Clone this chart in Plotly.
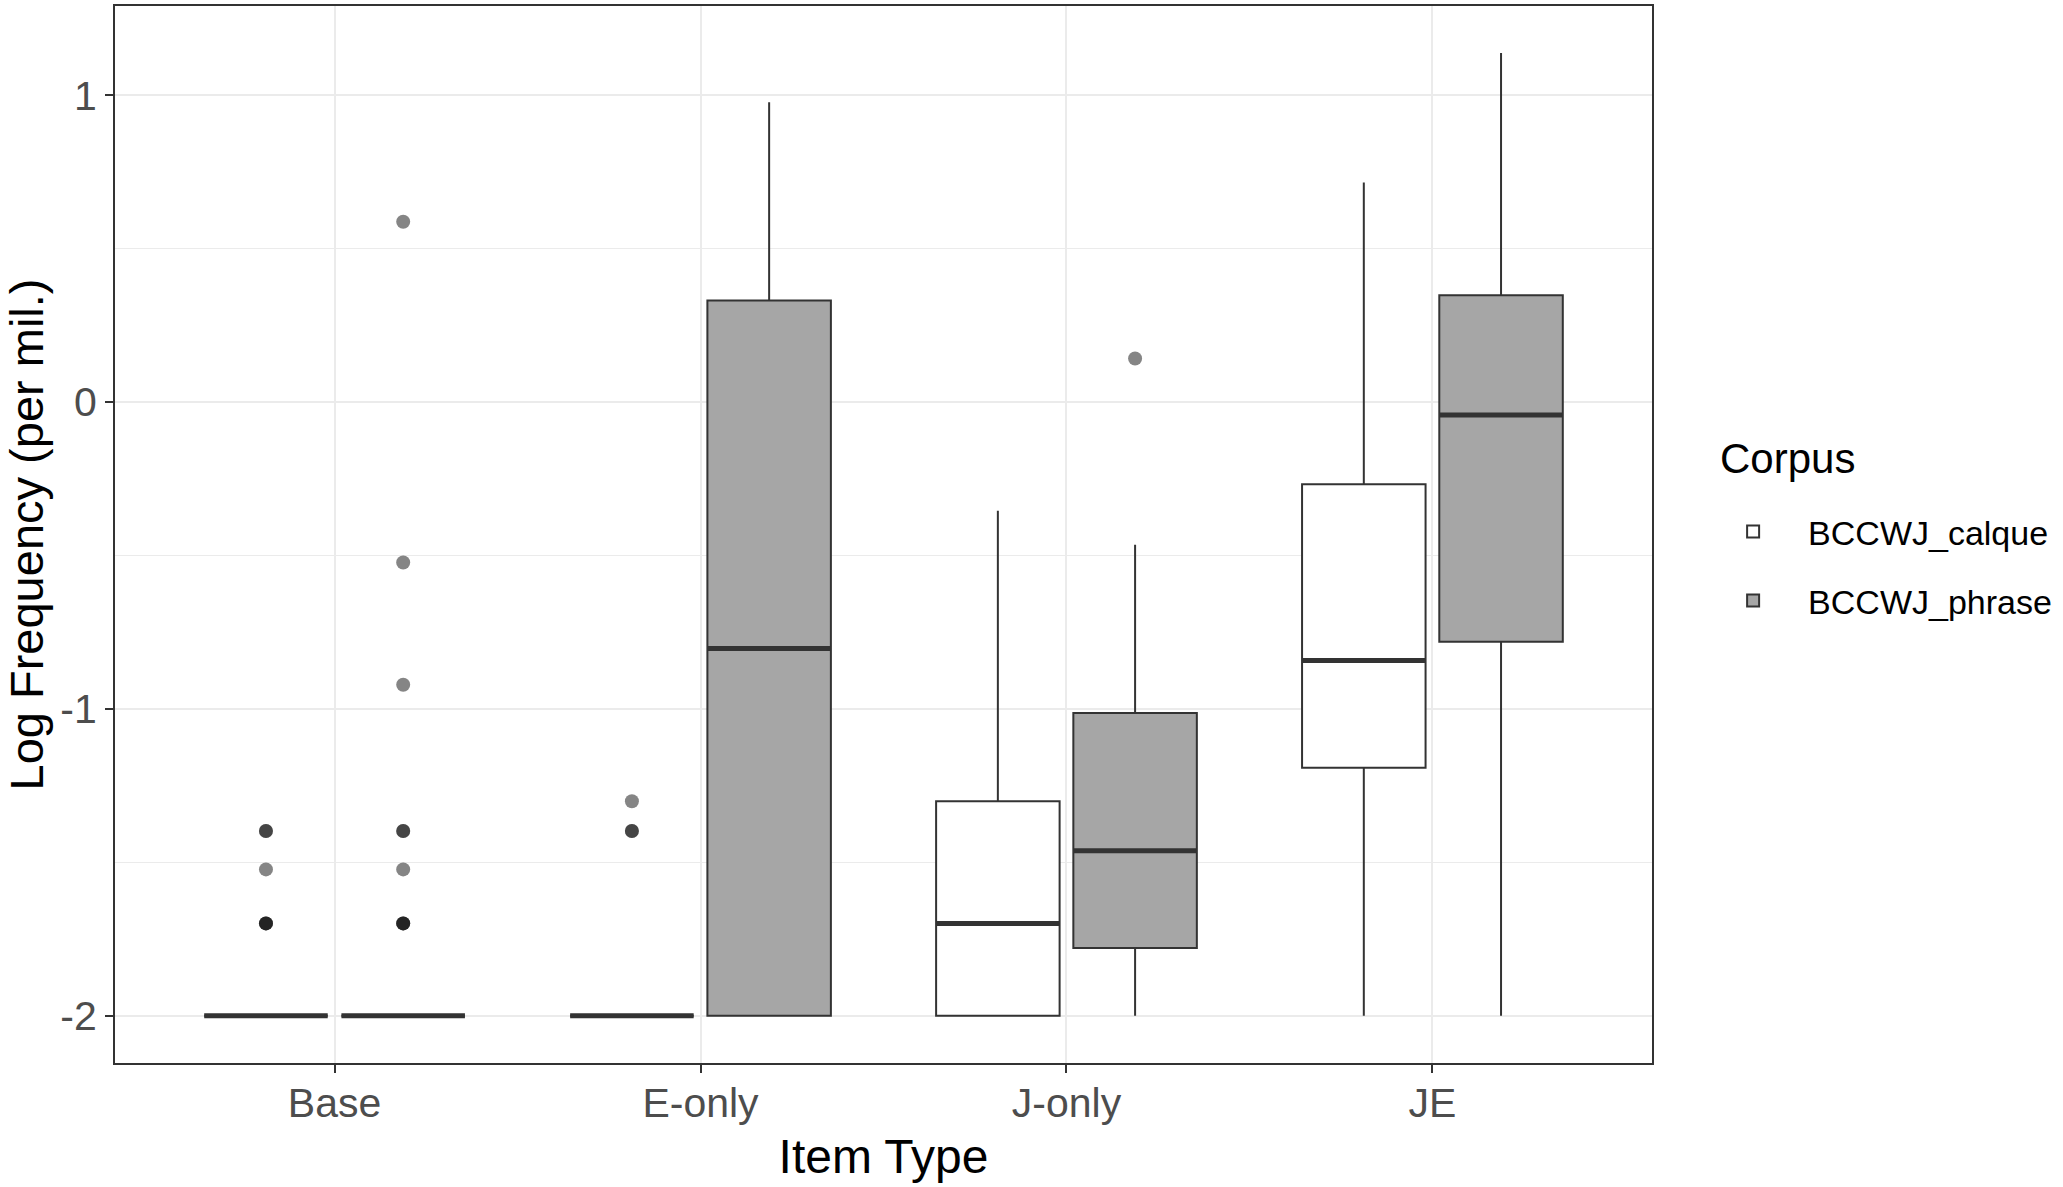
import plotly.graph_objects as go

categories = ["Base", "E-only", "J-only", "JE"]
series = ["BCCWJ_calque", "BCCWJ_phrase"]

# box statistics per category (log10 frequency per million)
calque_q1 = [-2.0, -2.0, -2.0, -1.192]
calque_median = [-2.0, -2.0, -1.699, -0.842]
calque_q3 = [-2.0, -2.0, -1.301, -0.268]
calque_lower = [-2.0, -2.0, -2.0, -2.0]
calque_upper = [-2.0, -2.0, -0.354, 0.716]

phrase_q1 = [-2.0, -2.0, -1.779, -0.781]
phrase_median = [-2.0, -0.803, -1.462, -0.042]
phrase_q3 = [-2.0, 0.331, -1.013, 0.348]
phrase_lower = [-2.0, -2.0, -2.0, -2.0]
phrase_upper = [-2.0, 0.977, -0.465, 1.138]

# outliers (category, value); repeated values overplot
calque_out_cat = ["Base", "Base", "Base", "Base", "Base", "Base",
                  "E-only", "E-only", "E-only"]
calque_out_val = [-1.398, -1.398, -1.523, -1.699, -1.699, -1.699,
                  -1.301, -1.398, -1.398]
phrase_out_cat = ["Base", "Base", "Base", "Base", "Base", "Base", "Base", "Base", "Base",
                  "J-only"]
phrase_out_val = [0.588, -0.523, -0.921, -1.398, -1.398, -1.523, -1.699, -1.699, -1.699,
                  0.142]

fills = ["#FFFFFF", "#A6A6A6"]
LINE = "#333333"
dodge = 0.1875
bw = 0.3375

fig = go.Figure()

def xpos(cats, k):
    off = -dodge if k == 0 else dodge
    return [categories.index(c) + off for c in cats]

stats = [
    (calque_q1, calque_median, calque_q3, calque_lower, calque_upper, calque_out_cat, calque_out_val),
    (phrase_q1, phrase_median, phrase_q3, phrase_lower, phrase_upper, phrase_out_cat, phrase_out_val),
]

for k, (q1, med, q3, lo, hi, oc, ov) in enumerate(stats):
    xs = xpos(categories, k)
    fig.add_trace(go.Box(
        x=xs, q1=q1, median=med, q3=q3, lowerfence=lo, upperfence=hi,
        width=bw, whiskerwidth=0, boxpoints=False,
        fillcolor=fills[k], line=dict(color=LINE, width=2),
        name=series[k], showlegend=True, legendgroup=series[k],
        hoverinfo="skip",
    ))

for k, (q1, med, q3, lo, hi, oc, ov) in enumerate(stats):
    xs = xpos(categories, k)
    # thick median line
    fig.add_trace(go.Box(
        x=xs, q1=med, median=med, q3=med, lowerfence=med, upperfence=med,
        width=bw, whiskerwidth=0, boxpoints=False,
        fillcolor="rgba(0,0,0,0)", line=dict(color=LINE, width=5),
        name=series[k], showlegend=False, legendgroup=series[k],
        hoverinfo="skip",
    ))
    fig.add_trace(go.Scatter(
        x=xpos(oc, k), y=ov, mode="markers",
        marker=dict(size=14, color="rgba(0,0,0,0.48)", line=dict(width=0)),
        showlegend=False, hoverinfo="skip",
    ))

fig.add_annotation(
    text="Corpus", xref="paper", yref="paper", x=1.043, y=0.572,
    xanchor="left", yanchor="middle", showarrow=False,
    font=dict(size=42, color="#000000"),
)

fig.update_layout(
    width=2063, height=1187,
    margin=dict(l=115, r=411, t=4, b=124),
    paper_bgcolor="white", plot_bgcolor="white",
    boxmode="overlay",
    font=dict(family="Liberation Sans, Arial, sans-serif", color="#000000"),
    legend=dict(
        font=dict(size=34, color="#000000"),
        x=1.030, xanchor="left", y=0.530, yanchor="top",
        bgcolor="rgba(0,0,0,0)", itemsizing="constant",
        itemwidth=100, tracegroupgap=22,
    ),
    xaxis=dict(
        range=[-0.6, 3.6],
        tickmode="array", tickvals=list(range(len(categories))), ticktext=categories,
        tickfont=dict(size=41, color="#4D4D4D"),
        ticks="outside", ticklen=8, tickwidth=2, tickcolor=LINE,
        ticklabelstandoff=-5,
        showgrid=True, gridcolor="#EBEBEB", gridwidth=2,
        showline=True, linecolor=LINE, linewidth=2, mirror=True,
        zeroline=False,
        title=dict(text="Item Type", font=dict(size=48, color="#000000"), standoff=14),
    ),
    yaxis=dict(
        range=[-2.154, 1.291],
        tickmode="array", tickvals=[-2, -1, 0, 1], ticktext=["-2", "-1", "0", "1"],
        tickfont=dict(size=41, color="#4D4D4D"),
        ticks="outside", ticklen=8, tickwidth=2, tickcolor=LINE,
        showgrid=True, gridcolor="#EBEBEB", gridwidth=2,
        minor=dict(tickvals=[-1.5, -0.5, 0.5], showgrid=True, gridcolor="#EBEBEB", gridwidth=1, ticks=""),
        showline=True, linecolor=LINE, linewidth=2, mirror=True,
        zeroline=False,
        title=dict(text="Log Frequency (per mil.)", font=dict(size=47, color="#000000"), standoff=14),
    ),
)

fig.write_html("out.html")
